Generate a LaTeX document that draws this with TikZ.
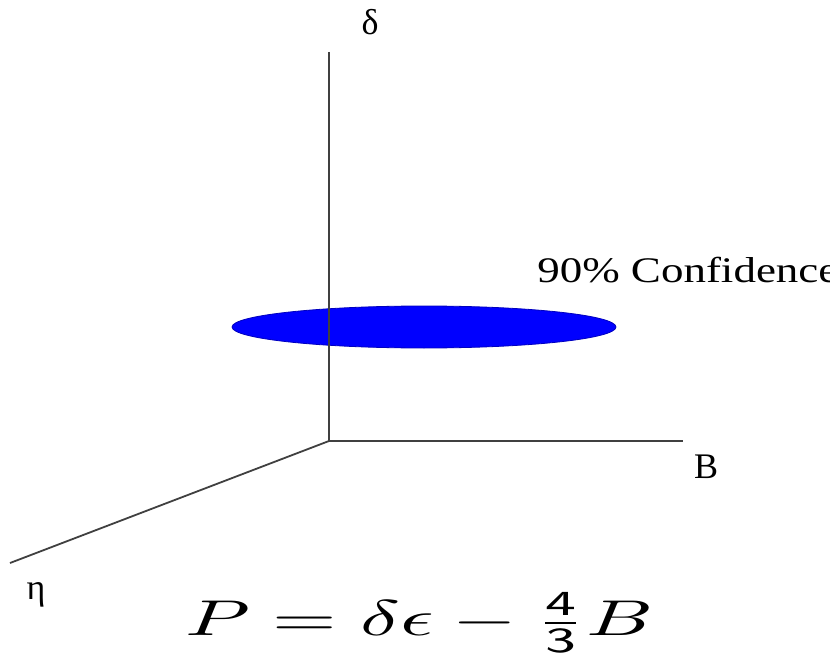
\documentclass[tikz,border=0pt]{standalone}
\usepackage{fontspec}
\usepackage{graphicx}
\newfontfamily\timesf{Liberation Serif}
\begin{document}
\begin{tikzpicture}[x=1pt,y=-1pt,
  axis/.style={draw=black!75,line width=1.8pt},
  lbl/.style={font=\timesf\fontsize{36}{40}\selectfont,inner sep=0pt}]
\useasboundingbox (0,0) rectangle (830,655);
\coordinate (O) at (329,441);
\coordinate (top) at (329,52);
\coordinate (right) at (683,441);
\coordinate (left) at (10,563);
\filldraw[fill=blue,draw=blue!75!black,line width=0.8pt] (424,327) ellipse [x radius=192, y radius=21];
\draw[axis] (top) -- (O) -- (right);
\draw[axis] (O) -- (left);
\node[lbl] (d) at (370,22) {δ};
\node[lbl,anchor=west,xscale=1.25] (conf) at (537,270) {90\% Confidence};
\node[lbl] (b) at (706,467) {B};
\node[lbl] (eta) at (36,595) {η};
\node[inner sep=0pt,anchor=north west] (eq) at (185,592) {\resizebox*{468pt}{61pt}{$P = \delta\epsilon - \frac{\mathsf{4}}{\mathsf{3}}B$}};
\end{tikzpicture}
\end{document}
